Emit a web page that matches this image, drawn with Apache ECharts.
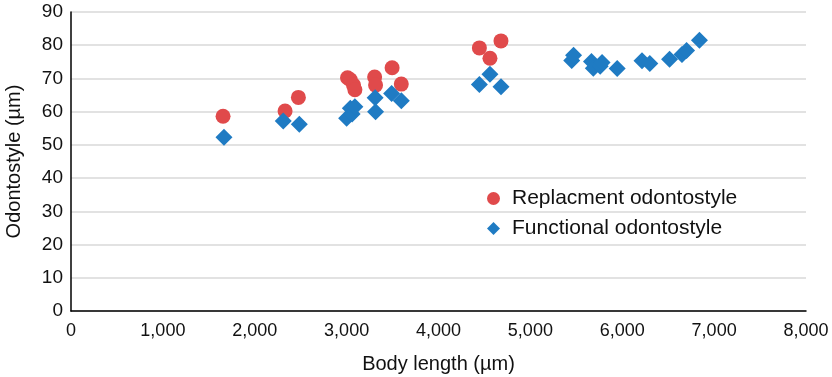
<!DOCTYPE html>
<html>
<head>
<meta charset="utf-8">
<script src="https://cdn.jsdelivr.net/npm/echarts@6/dist/echarts.min.js"></script>
<style>
  html, body { margin: 0; padding: 0; background: #fff; }
  #chart { width: 832px; height: 377px; }
</style>
</head>
<body>
<div id="chart"></div>
<script>
// 替换齿针 (红色圆点)
const replacementX = [1655, 2330, 2475, 3010, 3040, 3075, 3090, 3305, 3315, 3495, 3595, 4445, 4560, 4680];
const replacementY = [58.6, 60.2, 64.3, 70.2, 69.6, 68.0, 66.6, 70.4, 68.0, 73.2, 68.3, 79.2, 76.1, 81.3];
// 功能齿针 (蓝色菱形)
const functionalX = [1665, 2310, 2485, 3000, 3040, 3060, 3090, 3310, 3315, 3490, 3595, 4445, 4560, 4680,
  5450, 5470, 5665, 5685, 5760, 5780, 5945, 6215, 6300, 6515, 6650, 6700, 6840];
const functionalY = [52.3, 57.2, 56.2, 58.0, 61.0, 59.3, 61.5, 64.2, 60.0, 65.5, 63.3, 68.2, 71.3, 67.5,
  75.4, 77.0, 75.1, 73.1, 73.7, 74.8, 73.0, 75.3, 74.5, 75.8, 77.2, 78.4, 81.5];
const seriesNames = ['Replacment odontostyle', 'Functional odontostyle'];

const chart = echarts.init(document.getElementById('chart'), null, { renderer: 'canvas' });

const fontFamily = '"Liberation Sans", Arial, Helvetica, sans-serif';

const option = {
  animation: false,
  backgroundColor: '#fff',
  textStyle: { fontFamily: fontFamily },
  grid: {
    left: 71,
    right: 26,
    top: 12,
    bottom: 66,
    containLabel: false,
    outerBoundsMode: 'none'
  },
  legend: {
    orient: 'vertical',
    left: 482,
    top: 183,
    itemGap: 9,
    itemWidth: 13,
    itemHeight: 13,
    textStyle: { fontSize: 21, color: '#111', fontFamily: fontFamily, padding: [0, 0, 0, 7] },
    data: [
      { name: seriesNames[0], icon: 'circle' },
      { name: seriesNames[1], icon: 'diamond' }
    ]
  },
  xAxis: {
    type: 'value',
    min: 0,
    max: 8000,
    interval: 1000,
    name: 'Body length (\u00b5m)',
    nameLocation: 'middle',
    nameGap: 43,
    nameTextStyle: { fontSize: 20, color: '#111' },
    axisLine: { show: true, lineStyle: { color: '#000', width: 1.5 } },
    axisTick: { show: false },
    splitLine: { show: false },
    axisLabel: {
      fontSize: 18,
      color: '#111',
      margin: 11,
      formatter: function (v) {
        return String(v).replace(/\B(?=(\d{3})+(?!\d))/g, ',');
      }
    }
  },
  yAxis: {
    type: 'value',
    min: 0,
    max: 90,
    interval: 10,
    name: 'Odontostyle (\u00b5m)',
    nameLocation: 'middle',
    nameGap: 47,
    nameTextStyle: { fontSize: 20, color: '#111' },
    axisLine: { show: true, lineStyle: { color: '#000', width: 1.5 } },
    axisTick: { show: false },
    splitLine: { show: true, lineStyle: { color: '#d9d9d9', width: 1.5 } },
    axisLabel: { fontSize: 19, color: '#111', margin: 8 }
  },
  series: [
    {
      name: seriesNames[0],
      type: 'scatter',
      symbol: 'circle',
      symbolSize: 15,
      itemStyle: { color: '#e04a4b', opacity: 1 },
      data: replacementX.map((x, i) => [x, replacementY[i]])
    },
    {
      name: seriesNames[1],
      type: 'scatter',
      symbol: 'diamond',
      symbolSize: 17,
      itemStyle: { color: '#1f7bc3', opacity: 1 },
      data: functionalX.map((x, i) => [x, functionalY[i]])
    }
  ]
};

chart.setOption(option);
</script>
</body>
</html>
